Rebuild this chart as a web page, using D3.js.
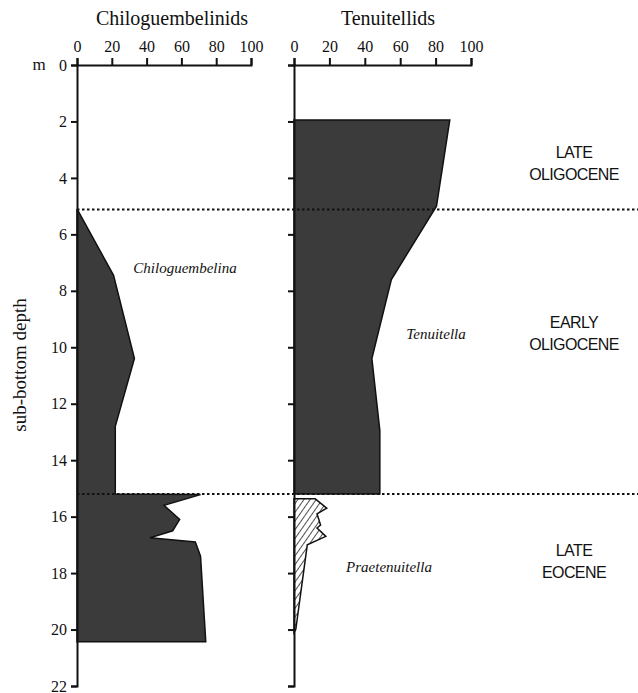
<!DOCTYPE html>
<html>
<head>
<meta charset="utf-8">
<script src="https://cdnjs.cloudflare.com/ajax/libs/d3/7.8.5/d3.min.js"></script>
<style>
  body { margin: 0; background: #fff; }
  #chart { width: 638px; height: 693px; }
  .serif { font-family: "Liberation Serif", "DejaVu Serif", serif; fill: #111; }
  .epoch { font-family: "Liberation Sans", Arial, sans-serif; font-size: 16px; letter-spacing: -0.6px; fill: #111; text-anchor: middle; }
  .axis path, .axis line { stroke: #111; stroke-width: 2; }
</style>
</head>
<body>
<div id="chart"></div>
<script>
// depth in metres, percentages
var chiloDepth = [5.1, 7.45, 10.4, 12.8, 15.2, 15.22, 15.6, 16.1, 16.5, 16.75, 16.9, 17.4, 20.43],
    chiloPct   = [0, 21, 33, 22, 22, 71, 50, 59, 55, 42, 68, 71, 74];

var tenuiDepth = [1.95, 5.0, 7.6, 10.4, 12.95, 15.2],
    tenuiPct   = [88, 80.5, 55, 44, 48.5, 48.5];

var praeDepth = [15.37, 15.7, 15.9, 16.3, 16.4, 16.7, 17.0, 20.0, 20.1],
    praePct   = [12, 18.5, 13, 15, 13, 18, 7.5, 1, 0];

var pctTicks = [0, 20, 40, 60, 80, 100],
    depthTicks = d3.range(0, 23, 2),
    boundaries = [5.12, 15.2];

var epochs = [
    {lines: ['LATE', 'OLIGOCENE'], depth: 3.3},
    {lines: ['EARLY', 'OLIGOCENE'], depth: 9.3},
    {lines: ['LATE', 'EOCENE'], depth: 17.4}
];

var width = 638,
    height = 693;

var svg = d3.select('#chart').append('svg')
    .attr('width', width)
    .attr('height', height);

var y = d3.scaleLinear().domain([0, 22]).range([65, 686]),
    xL = d3.scaleLinear().domain([0, 100]).range([77, 251]),
    xR = d3.scaleLinear().domain([0, 100]).range([294, 471]);

function pts(depths, vals) {
    return depths.map(function(d, i) { return {depth: d, v: vals[i]}; });
}

function area(x) {
    return d3.area()
        .y(function(d) { return y(d.depth); })
        .x0(x(0))
        .x1(function(d) { return x(d.v); });
}

// hatch for Praetenuitella
var defs = svg.append('defs');
defs.append('pattern')
    .attr('id', 'hatch')
    .attr('patternUnits', 'userSpaceOnUse')
    .attr('width', 5)
    .attr('height', 5)
    .attr('patternTransform', 'rotate(35)')
    .call(function(p) {
        p.append('rect').attr('width', 5).attr('height', 5).attr('fill', '#fff');
        p.append('line').attr('x1', 0).attr('y1', 0).attr('x2', 0).attr('y2', 5)
            .attr('stroke', '#222').attr('stroke-width', 1.6);
    });

svg.append('path')
    .datum(pts(chiloDepth, chiloPct))
    .attr('d', area(xL))
    .attr('fill', '#3b3b3b')
    .attr('stroke', '#111')
    .attr('stroke-width', 1.5);

svg.append('path')
    .datum(pts(tenuiDepth, tenuiPct))
    .attr('d', area(xR))
    .attr('fill', '#3b3b3b')
    .attr('stroke', '#111')
    .attr('stroke-width', 1.5);

svg.append('path')
    .datum(pts(praeDepth, praePct))
    .attr('d', area(xR))
    .attr('fill', 'url(#hatch)')
    .attr('stroke', '#111')
    .attr('stroke-width', 1.5);

// boundary dotted lines
svg.selectAll('.bound')
    .data(boundaries)
    .enter().append('line')
    .attr('class', 'bound')
    .attr('x1', xL(0))
    .attr('x2', width)
    .attr('y1', function(d) { return y(d); })
    .attr('y2', function(d) { return y(d); })
    .attr('stroke', '#111')
    .attr('stroke-width', 2)
    .attr('stroke-dasharray', '2.5,2.5');

// axes
function serifTicks(g) {
    g.selectAll('text')
        .style('font-family', '"Liberation Serif", "DejaVu Serif", serif')
        .style('font-size', '16px')
        .style('fill', '#111');
}

svg.append('g')
    .attr('class', 'axis')
    .attr('transform', 'translate(0,' + y(0) + ')')
    .call(d3.axisTop(xL).tickValues(pctTicks).tickSize(7).tickPadding(6))
    .call(serifTicks);

svg.append('g')
    .attr('class', 'axis')
    .attr('transform', 'translate(0,' + y(0) + ')')
    .call(d3.axisTop(xR).tickValues(pctTicks).tickSize(7).tickPadding(6))
    .call(serifTicks);

svg.append('g')
    .attr('class', 'axis')
    .attr('transform', 'translate(' + xL(0) + ',0)')
    .call(d3.axisLeft(y).tickValues(depthTicks).tickSize(6).tickPadding(4))
    .call(serifTicks);

svg.append('g')
    .attr('class', 'axis')
    .attr('transform', 'translate(' + xR(0) + ',0)')
    .call(d3.axisLeft(y).tickValues(depthTicks).tickSize(6).tickFormat(''));

// titles and labels
svg.append('text').attr('class', 'serif')
    .attr('x', 172).attr('y', 25)
    .attr('text-anchor', 'middle')
    .style('font-size', '20px')
    .text('Chiloguembelinids');

svg.append('text').attr('class', 'serif')
    .attr('x', 388).attr('y', 25)
    .attr('text-anchor', 'middle')
    .style('font-size', '20px')
    .text('Tenuitellids');

svg.append('text').attr('class', 'serif')
    .attr('x', 39).attr('y', y(0) + 5)
    .attr('text-anchor', 'middle')
    .style('font-size', '17px')
    .text('m');

svg.append('text').attr('class', 'serif')
    .attr('transform', 'translate(26,365) rotate(-90)')
    .attr('text-anchor', 'middle')
    .style('font-size', '19px')
    .text('sub-bottom depth');

svg.append('text').attr('class', 'serif')
    .attr('x', 185).attr('y', 273)
    .attr('text-anchor', 'middle')
    .style('font-size', '15px')
    .style('font-style', 'italic')
    .text('Chiloguembelina');

svg.append('text').attr('class', 'serif')
    .attr('x', 436).attr('y', 339)
    .attr('text-anchor', 'middle')
    .style('font-size', '15px')
    .style('font-style', 'italic')
    .text('Tenuitella');

svg.append('text').attr('class', 'serif')
    .attr('x', 389).attr('y', 572)
    .attr('text-anchor', 'middle')
    .style('font-size', '15px')
    .style('font-style', 'italic')
    .text('Praetenuitella');

var ep = svg.selectAll('.epoch')
    .data(epochs)
    .enter().append('text')
    .attr('class', 'epoch');

ep.selectAll('tspan')
    .data(function(d) { return d.lines.map(function(l, i) { return {t: l, i: i, depth: d.depth}; }); })
    .enter().append('tspan')
    .attr('x', 574)
    .attr('y', function(d) { return y(d.depth) + d.i * 22; })
    .text(function(d) { return d.t; });
</script>
</body>
</html>
